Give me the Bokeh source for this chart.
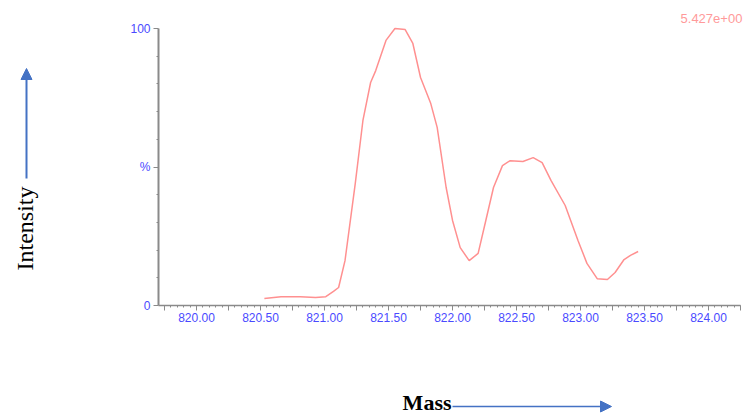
import math
from bokeh.plotting import figure
from bokeh.layouts import column, row
from bokeh.models import FixedTicker, Label, Arrow, NormalHead, Range1d
from bokeh.embed import file_html
from bokeh.resources import INLINE

# ---- data ----
mass = [820.53, 820.66, 820.81, 820.93, 821.01, 821.07, 821.11, 821.16, 821.24,
        821.30, 821.36, 821.40, 821.48, 821.55, 821.63, 821.69, 821.75, 821.83,
        821.88, 821.95, 822.00, 822.06, 822.13, 822.20, 822.26, 822.32, 822.39,
        822.45, 822.55, 822.63, 822.70, 822.77, 822.88, 822.98, 823.05, 823.13,
        823.21, 823.27, 823.34, 823.39, 823.45]
intensity = [2.5, 3.2, 3.2, 2.9, 3.2, 5.1, 6.5, 16.2, 44.0,
             66.8, 80.5, 84.8, 95.7, 100.0, 99.6, 94.6, 82.3, 72.9,
             64.3, 42.6, 30.7, 20.9, 16.2, 18.8, 30.7, 42.6, 50.5,
             52.3, 52.0, 53.4, 51.6, 45.1, 36.1, 23.5, 15.2, 9.7,
             9.4, 11.9, 16.6, 18.1, 19.5]

x_major = [819.75 + 0.25 * i for i in range(19)]
x_minor = [round(819.70 + 0.05 * i, 2) for i in range(92)]
x_labels = {t: ("%.2f" % t if abs((t * 2) - round(t * 2)) < 1e-9 else "") for t in x_major}
y_major = [0, 50, 100]
y_minor = [10, 20, 30, 40, 60, 70, 80, 90]
y_labels = {0: "0", 50: "%", 100: "100"}
scale_text = "5.427e+00"
x_title = "Mass"
y_title = "Intensity"

arrow_blue = "#4472c4"
blue = "#4a4aff"
gray = "#8a8a8a"


def bare(w, h, xr, yr, bottom=0):
    f = figure(width=w, height=h, output_backend="svg", toolbar_location=None,
               x_range=xr, y_range=yr, x_axis_location=None, y_axis_location=None,
               min_border=0)
    f.min_border_bottom = bottom
    f.outline_line_color = None
    f.grid.visible = False
    return f


# ---- left strip: y title + arrow (coordinates are page pixels) ----
L = bare(120, 330, Range1d(0, 120), Range1d(305, 0), bottom=25)
L.add_layout(Label(x=24, y=228, text=y_title, angle=math.pi / 2,
                   text_font="Liberation Serif", text_font_size="24px",
                   text_color="black", text_align="center", text_baseline="middle"))
L.add_layout(Arrow(end=NormalHead(size=11, fill_color=arrow_blue, line_color=arrow_blue),
                   x_start=26, y_start=178, x_end=26, y_end=68,
                   line_color=arrow_blue, line_width=2))

# ---- main chart ----
x0, x1 = 819.703, 824.25
M = figure(width=623, height=330, output_backend="svg", toolbar_location=None,
           x_range=Range1d(x0, 824.273), y_range=Range1d(0, 110.11),
           min_border_left=38, min_border_right=0, min_border_top=0,
           min_border_bottom=25)
M.outline_line_color = None
M.grid.visible = False

M.line(mass, intensity, line_color="#ff9090", line_width=1.5)

for ax in (M.xaxis[0], M.yaxis[0]):
    ax.axis_line_color = gray
    ax.major_tick_line_color = gray
    ax.minor_tick_line_color = gray
    ax.major_tick_in = 0
    ax.minor_tick_in = 0
    ax.major_label_text_color = blue
    ax.major_label_text_font = "Liberation Sans"
    ax.major_label_text_font_size = "12px"

M.xaxis.ticker = FixedTicker(ticks=x_major, minor_ticks=x_minor)
M.xaxis.major_label_overrides = x_labels
M.xaxis.bounds = (x0, x1)
M.xaxis.axis_line_width = 1.5
M.xaxis.major_tick_out = 5
M.xaxis.minor_tick_out = 2
M.xaxis.major_label_standoff = 2

M.yaxis.ticker = FixedTicker(ticks=y_major, minor_ticks=y_minor)
M.yaxis.major_label_overrides = y_labels
M.yaxis.bounds = (0, 100)
M.yaxis.axis_line_width = 2
M.yaxis.major_tick_out = 5
M.yaxis.minor_tick_out = 2
M.yaxis.major_label_standoff = 3

M.add_layout(Label(x=820 + (680 - 196) / 128.0, y=(305 - 18) / 2.77, text=scale_text,
                   text_color="#ff9a9a", text_font="Liberation Sans",
                   text_font_size="13px", text_baseline="middle", text_align="left"))

# ---- bottom strip: x title + arrow (page pixels) ----
B = bare(743, 84, Range1d(0, 743), Range1d(414, 330))
B.add_layout(Label(x=451, y=402, text=x_title, text_font="Liberation Serif",
                   text_font_style="bold", text_font_size="22px", text_color="black",
                   text_align="right", text_baseline="middle"))
B.add_layout(Arrow(end=NormalHead(size=11, fill_color=arrow_blue, line_color=arrow_blue),
                   x_start=452, y_start=406, x_end=611, y_end=406,
                   line_color=arrow_blue, line_width=1.5))

layout = column(row(L, M, spacing=0), B, spacing=0)
open("out.html", "w").write(file_html(layout, INLINE))
